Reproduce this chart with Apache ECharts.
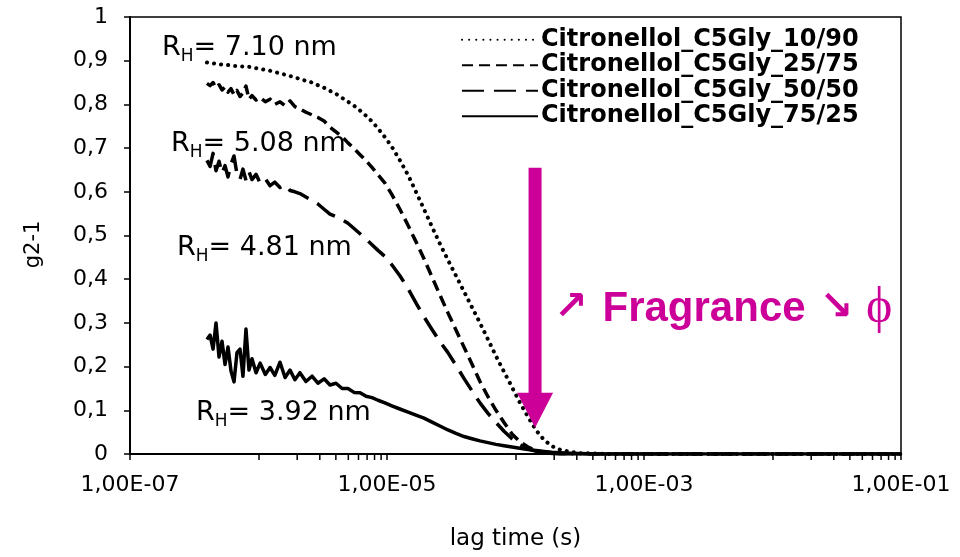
<!DOCTYPE html>
<html>
<head>
<meta charset="utf-8">
<script src="https://cdn.jsdelivr.net/npm/echarts@6/dist/echarts.min.js"></script>
<style>
  html, body { margin: 0; padding: 0; background: #fff; }
  #chart { width: 960px; height: 557px; }
</style>
</head>
<body>
<div id="chart"></div>
<script>
// Correlator lag times (s), shared by all four correlation functions
const lagTime = [
  3.97e-7, 4.20e-7, 4.43e-7, 4.67e-7, 4.93e-7, 5.20e-7, 5.49e-7, 5.79e-7, 6.11e-7, 6.45e-7,
  6.80e-7, 7.18e-7, 7.57e-7, 7.99e-7, 8.43e-7, 8.90e-7, 9.57e-7, 1.03e-6, 1.13e-6, 1.23e-6,
  1.34e-6, 1.47e-6, 1.61e-6, 1.76e-6, 1.92e-6, 2.10e-6, 2.34e-6, 2.61e-6, 2.90e-6, 3.24e-6,
  3.60e-6, 4.01e-6, 4.47e-6, 4.97e-6, 5.54e-6, 6.17e-6, 6.87e-6, 7.64e-6, 8.51e-6, 9.64e-6,
  1.09e-5, 1.26e-5, 1.46e-5, 1.68e-5, 1.94e-5, 2.24e-5, 2.58e-5, 2.98e-5, 3.44e-5, 3.97e-5,
  4.58e-5, 5.29e-5, 6.11e-5, 7.05e-5, 8.14e-5, 9.39e-5, 1.08e-4, 1.25e-4, 1.45e-4, 1.67e-4,
  1.92e-4, 2.22e-4, 2.66e-4, 3.18e-4, 4.16e-4, 5.44e-4, 9.30e-4, 2.0e-3, 5.0e-3, 1.0e-2,
  2.0e-2, 5.0e-2, 1.0e-1
];

// g2-1 for each Citronellol / C5Gly ratio
const g2_10_90 = [
  0.896, 0.895, 0.894, 0.893, 0.892, 0.891, 0.890, 0.890, 0.889, 0.888,
  0.888, 0.887, 0.887, 0.886, 0.886, 0.885, 0.883, 0.881, 0.879, 0.877,
  0.874, 0.871, 0.868, 0.865, 0.862, 0.858, 0.854, 0.850, 0.844, 0.838,
  0.831, 0.824, 0.815, 0.806, 0.797, 0.786, 0.774, 0.761, 0.745, 0.725,
  0.703, 0.672, 0.638, 0.600, 0.560, 0.520, 0.481, 0.444, 0.408, 0.372,
  0.336, 0.300, 0.262, 0.224, 0.188, 0.153, 0.118, 0.085, 0.054, 0.032,
  0.018, 0.010, 0.005, 0.002, 0.001, 0.000, 0.000, 0.000, 0.000, 0.000,
  0.000, 0.000, 0.000
];
const g2_25_75 = [
  0.848, 0.843, 0.850, 0.838, 0.845, 0.833, 0.840, 0.828, 0.836, 0.822,
  0.832, 0.818, 0.826, 0.842, 0.812, 0.820, 0.810, 0.816, 0.806, 0.812,
  0.800, 0.806, 0.797, 0.808, 0.795, 0.790, 0.782, 0.776, 0.770, 0.762,
  0.748, 0.737, 0.726, 0.712, 0.699, 0.685, 0.671, 0.656, 0.639, 0.620,
  0.594, 0.560, 0.523, 0.486, 0.447, 0.405, 0.364, 0.323, 0.284, 0.245,
  0.206, 0.166, 0.131, 0.100, 0.072, 0.046, 0.028, 0.016, 0.008, 0.004,
  0.002, 0.001, 0.000, 0.000, 0.000, 0.000, 0.000, 0.000, 0.000, 0.000,
  0.000, 0.000, 0.000
];
const g2_50_50 = [
  0.672, 0.658, 0.688, 0.648, 0.670, 0.642, 0.660, 0.634, 0.664, 0.682,
  0.640, 0.628, 0.652, 0.626, 0.646, 0.628, 0.640, 0.620, 0.630, 0.614,
  0.622, 0.610, 0.616, 0.603, 0.600, 0.596, 0.588, 0.580, 0.572, 0.560,
  0.549, 0.543, 0.536, 0.528, 0.516, 0.504, 0.492, 0.479, 0.466, 0.452,
  0.433, 0.408, 0.378, 0.346, 0.314, 0.285, 0.257, 0.232, 0.203, 0.173,
  0.145, 0.117, 0.093, 0.072, 0.052, 0.035, 0.021, 0.012, 0.006, 0.003,
  0.001, 0.000, 0.000, 0.000, 0.000, 0.000, 0.000, 0.000, 0.000, 0.000,
  0.000, 0.000, 0.000
];
const g2_75_25 = [
  0.262, 0.272, 0.240, 0.300, 0.222, 0.258, 0.205, 0.245, 0.190, 0.165,
  0.232, 0.240, 0.178, 0.286, 0.192, 0.218, 0.186, 0.208, 0.182, 0.198,
  0.180, 0.210, 0.175, 0.192, 0.170, 0.186, 0.166, 0.178, 0.162, 0.172,
  0.158, 0.162, 0.150, 0.150, 0.141, 0.140, 0.132, 0.129, 0.123, 0.117,
  0.110, 0.103, 0.096, 0.089, 0.082, 0.073, 0.064, 0.055, 0.047, 0.040,
  0.035, 0.030, 0.026, 0.022, 0.019, 0.016, 0.013, 0.010, 0.008, 0.006,
  0.004, 0.003, 0.002, 0.001, 0.000, 0.000, 0.000, 0.000, 0.000, 0.000,
  0.000, 0.000, 0.000
];

const seriesNames = [
  'Citronellol_C5Gly_10/90',
  'Citronellol_C5Gly_25/75',
  'Citronellol_C5Gly_50/50',
  'Citronellol_C5Gly_75/25'
];
const seriesValues = [g2_10_90, g2_25_75, g2_50_50, g2_75_25];

// Hydrodynamic radius labels
const radiusLabels = ['7.10', '5.08', '4.81', '3.92'];

// Intermediate log ticks (2..9 in the odd decades)
const minorTickValues = [
  2e-6, 3e-6, 4e-6, 5e-6, 6e-6, 7e-6, 8e-6, 9e-6,
  2e-4, 3e-4, 4e-4, 5e-4, 6e-4, 7e-4, 8e-4, 9e-4,
  2e-2, 3e-2, 4e-2, 5e-2, 6e-2, 7e-2, 8e-2, 9e-2
];

// Arrow marking the trend: lag time and g2-1 span
const arrowTime = 1.42e-4;
const arrowFrom = 0.655;
const arrowTo = 0.06;

const MAGENTA = '#CC0099';
const FONT = 'DejaVu Sans';

const dashStyles = [
  { type: [0.1, 7], cap: 'round', width: 4 },
  { type: [11, 6], cap: 'butt', width: 3.5 },
  { type: [22, 10], cap: 'butt', width: 3.5 },
  { type: 'solid', cap: 'butt', width: 3.5 }
];

function pairs(values) {
  return lagTime.map((t, i) => [t, values[i]]);
}

function sciLabel(v) {
  const e = Math.round(Math.log10(v));
  if (e % 2 === 0) return '';
  const sign = e < 0 ? '-' : '+';
  const a = Math.abs(e);
  return '1,00E' + sign + (a < 10 ? '0' + a : a);
}

const series = seriesNames.map((name, i) => ({
  name: name,
  type: 'line',
  data: pairs(seriesValues[i]),
  symbol: 'none',
  smooth: false,
  silent: true,
  z: 3 + i,
  lineStyle: {
    color: '#000',
    width: dashStyles[i].width,
    type: dashStyles[i].type,
    cap: dashStyles[i].cap,
    join: 'round'
  },
  itemStyle: { color: '#000' }
}));

series.push({
  type: 'custom',
  name: 'minorTicks',
  silent: true,
  clip: false,
  z: 10,
  data: minorTickValues.map(v => [v, 0]),
  encode: { x: 0, y: 1 },
  renderItem: function (params, api) {
    const p = api.coord([api.value(0), 0]);
    return {
      type: 'line',
      shape: { x1: p[0], y1: p[1], x2: p[0], y2: p[1] + 6 },
      style: { stroke: '#000', lineWidth: 1.5 }
    };
  }
});

const chart = echarts.init(document.getElementById('chart'), null, { renderer: 'canvas' });

const option = {
  backgroundColor: '#fff',
  animation: false,
  grid: {
    left: 130, right: 59, top: 17, bottom: 103,
    show: true, borderColor: '#000', borderWidth: 1.5,
    backgroundColor: 'transparent',
    outerBoundsMode: 'none'
  },
  legend: {
    data: seriesNames,
    orient: 'vertical',
    left: 461, top: 27,
    itemWidth: 76, itemHeight: 16, itemGap: 0,
    padding: 0,
    itemStyle: { opacity: 0 },
    textStyle: { fontFamily: FONT, fontWeight: 'bold', fontSize: 24, color: '#000', lineHeight: 25.5, padding: [0, 0, 0, -2] },
    selectedMode: false
  },
  xAxis: {
    type: 'log',
    logBase: 10,
    min: 1e-7,
    max: 1e-1,
    splitNumber: 6,
    name: 'lag time (s)',
    nameLocation: 'middle',
    nameGap: 74,
    nameTextStyle: { fontFamily: FONT, fontSize: 23, color: '#000' },
    axisLine: { show: true, onZero: false, lineStyle: { color: '#000', width: 2 } },
    axisTick: { show: true, inside: false, length: 6, lineStyle: { color: '#000', width: 1.5 } },
    axisLabel: { formatter: sciLabel, margin: 20, fontFamily: FONT, fontSize: 22, color: '#000', showMinLabel: true, showMaxLabel: true, hideOverlap: false },
    splitLine: { show: false },
    minorTick: { show: false }
  },
  yAxis: {
    type: 'value',
    min: 0,
    max: 1,
    interval: 0.1,
    name: 'g2-1',
    nameLocation: 'middle',
    nameGap: 86,
    nameRotate: 90,
    nameTextStyle: { fontFamily: FONT, fontSize: 21, color: '#000', padding: [0, 18, 0, 0] },
    axisLine: { show: true, lineStyle: { color: '#000', width: 2 } },
    axisTick: { show: true, inside: false, length: 6, lineStyle: { color: '#000', width: 1.5 } },
    axisLabel: {
      margin: 22, fontFamily: FONT, fontSize: 22, color: '#000',
      formatter: v => {
        const r = Math.round(v * 10) / 10;
        return String(r).replace('.', ',');
      }
    },
    splitLine: { show: false }
  },
  series: series
};

chart.setOption(option);

// Annotations: hydrodynamic radii and trend arrow
const rhRich = {
  r: { fontFamily: FONT, fontSize: 27, lineHeight: 36, verticalAlign: 'middle', fill: '#000' },
  h: { fontFamily: FONT, fontSize: 17, lineHeight: 36, verticalAlign: 'bottom', fill: '#000' },
  t: { fontFamily: FONT, fontSize: 27, lineHeight: 36, verticalAlign: 'middle', fill: '#000' }
};
const rhPlacement = [
  { left: 162, top: 34 },
  { left: 171, top: 130 },
  { left: 177, top: 234 },
  { left: 196, top: 399 }
];
const graphics = radiusLabels.map((r, i) => ({
  type: 'text',
  left: rhPlacement[i].left,
  top: rhPlacement[i].top,
  z: 20,
  style: {
    text: '{r|R}{h|H}{t|= ' + r + ' nm}',
    rich: rhRich
  }
}));

const pTop = chart.convertToPixel({ gridIndex: 0 }, [arrowTime, arrowFrom]);
const pTip = chart.convertToPixel({ gridIndex: 0 }, [arrowTime, arrowTo]);
const cx = pTop[0];
const headLen = 35, shaftHalf = 6.5, headHalf = 18;
graphics.push({
  type: 'polygon',
  z: 30,
  shape: {
    points: [
      [cx - shaftHalf, pTop[1]],
      [cx + shaftHalf, pTop[1]],
      [cx + shaftHalf, pTip[1] - headLen],
      [cx + headHalf, pTip[1] - headLen],
      [cx, pTip[1]],
      [cx - headHalf, pTip[1] - headLen],
      [cx - shaftHalf, pTip[1] - headLen]
    ]
  },
  style: { fill: MAGENTA, stroke: null }
});

graphics.push({
  type: 'text',
  left: 554,
  top: 284,
  z: 30,
  style: {
    text: '{a|\u2197}{f|Fragrance}{a|\u2198}{p|\u03D5}',
    fill: MAGENTA,
    rich: {
      a: { fontFamily: 'DejaVu Sans', fontWeight: 'bold', fontSize: 40, lineHeight: 52, fill: MAGENTA },
      f: { fontFamily: 'Liberation Sans', fontWeight: 'bold', fontSize: 42, lineHeight: 52, fill: MAGENTA, padding: [0, 14, 0, 15] },
      p: { fontFamily: 'Liberation Serif', fontSize: 50, lineHeight: 52, fill: MAGENTA, padding: [0, 0, 0, 13] }
    }
  }
});

chart.setOption({ graphic: graphics });
</script>
</body>
</html>
